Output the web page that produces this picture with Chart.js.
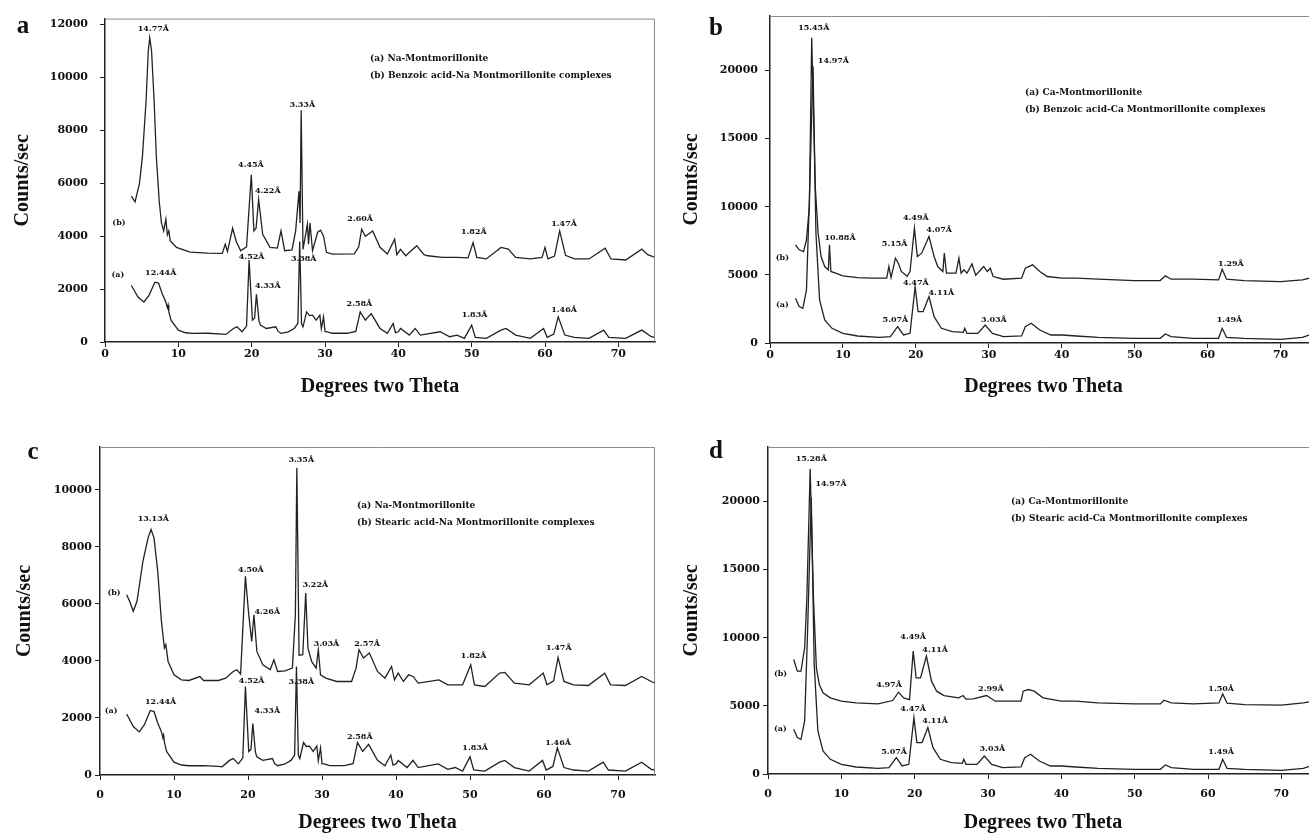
<!DOCTYPE html>
<html>
<head>
<meta charset="utf-8">
<script src="https://cdn.jsdelivr.net/npm/chart.js@4.4.2/dist/chart.umd.min.js"></script>
<style>
html, body { margin: 0; padding: 0; background: #fff; overflow: hidden; width: 1309px; height: 835px; }
.panel { position: absolute; }
</style>
</head>
<body>
<div class="panel" style="left:0;top:0"><canvas id="chart-a" width="660" height="410"></canvas></div>
<div class="panel" style="left:655px;top:0"><canvas id="chart-b" width="675" height="410"></canvas></div>
<div class="panel" style="left:0;top:410px"><canvas id="chart-c" width="660" height="425"></canvas></div>
<div class="panel" style="left:655px;top:410px"><canvas id="chart-d" width="675" height="425"></canvas></div>
<script>
// --- tick values ---
const thetaTicks = [0, 10, 20, 30, 40, 50, 60, 70];
const naTicks = [0, 2000, 4000, 6000, 8000, 10000, 12000];
const caTicks = [0, 5000, 10000, 15000, 20000];

// --- series: degrees two theta / counts per sec ---
const naMontX = [3.6, 4.5, 5.3, 6.0, 6.8, 7.3, 7.8, 8.3, 8.5, 8.6, 8.7, 9.0, 10, 11, 12, 14, 16, 16.5, 17.5, 18, 18.7, 19.3, 19.65, 20.1, 20.4, 20.65, 21.0, 21.2, 22, 23.3, 23.6, 24, 25, 25.8, 26.3, 26.55, 26.8, 27.0, 27.5, 27.9, 28.3, 28.8, 29.3, 29.5, 29.8, 30.0, 30.3, 31, 33, 34.2, 34.8, 35.5, 36.3, 37.5, 38.5, 39.3, 39.6, 40.0, 40.3, 41.5, 42.3, 43, 45.7, 47, 48, 49, 50.0, 50.5, 52, 54, 54.7, 56, 58, 59.8, 60.3, 61.2, 61.8, 62.7, 64, 66, 68, 68.7, 71, 73.2, 74.5, 75];
const naMontY = [2137, 1700, 1512, 1762, 2262, 2225, 1825, 1512, 1300, 1400, 1150, 825, 450, 350, 325, 330, 300, 287, 512, 575, 390, 600, 3100, 825, 900, 1800, 800, 637, 512, 575, 400, 325, 387, 512, 700, 3800, 700, 575, 1137, 1000, 1012, 825, 1012, 500, 950, 400, 387, 330, 330, 400, 1137, 825, 1075, 512, 325, 700, 350, 387, 512, 262, 512, 262, 387, 200, 262, 137, 637, 175, 137, 450, 512, 262, 137, 512, 175, 300, 950, 262, 175, 137, 450, 175, 137, 450, 200, 175];

const benzoicNaX = [3.6, 4.1, 4.7, 5.1, 5.6, 5.9, 6.1, 6.35, 6.7, 7.0, 7.4, 7.7, 8.0, 8.3, 8.5, 8.7, 8.9, 9.75, 11.6, 14, 16, 16.4, 16.7, 17.4, 17.9, 18.5, 19.3, 19.95, 20.3, 20.6, 20.95, 21.5, 22.5, 23.5, 24.0, 24.5, 25.5, 26.0, 26.45, 26.6, 26.75, 27.0, 27.6, 27.75, 27.95, 28.3, 29.0, 29.4, 29.8, 30.2, 31, 34, 34.6, 35.0, 35.5, 36.5, 37.5, 38.5, 39.5, 39.8, 40.3, 41, 42.5, 43.5, 44, 46, 48, 49.5, 50.2, 50.7, 52, 54, 55, 56, 58, 59.6, 60.0, 60.4, 61.3, 62.0, 62.8, 64, 66, 68.2, 69, 71, 73.2, 74, 75];
const benzoicNaY = [5512, 5300, 6000, 7000, 9100, 11000, 11500, 11000, 9100, 7000, 5300, 4500, 4200, 4640, 4050, 4200, 3825, 3575, 3400, 3360, 3350, 3700, 3420, 4300, 3800, 3450, 3600, 6325, 4200, 4300, 5390, 4075, 3575, 3550, 4200, 3450, 3480, 4200, 5700, 4500, 8762, 3500, 4450, 3700, 4500, 3450, 4150, 4225, 4000, 3390, 3320, 3330, 3600, 4262, 4000, 4200, 3580, 3325, 3890, 3300, 3500, 3260, 3640, 3300, 3260, 3200, 3200, 3180, 3762, 3200, 3140, 3575, 3512, 3200, 3140, 3200, 3575, 3140, 3250, 4200, 3275, 3140, 3140, 3550, 3140, 3100, 3512, 3300, 3200];

const stearicNaX = [3.6, 4.0, 4.5, 5.0, 5.8, 6.5, 6.9, 7.3, 7.8, 8.3, 8.7, 8.9, 9.2, 10, 11, 12, 13.5, 14, 16, 17, 18, 18.5, 19.0, 19.65, 20.1, 20.5, 20.8, 21.2, 22, 23, 23.5, 24, 25, 26, 26.4, 26.6, 26.9, 27.4, 27.8, 28.1, 28.6, 29.2, 29.5, 29.8, 30.5, 32, 34, 34.6, 35.0, 35.6, 36.4, 37.5, 38.5, 39.4, 39.8, 40.3, 41, 41.7, 42.3, 43, 45.8, 47, 49, 50.1, 50.6, 52, 54, 54.7, 56, 58, 59.9, 60.4, 61.3, 61.9, 62.7, 64, 66, 68.2, 69, 71, 73.2, 74.5, 75];
const stearicNaY = [6323, 6089, 5738, 6089, 7494, 8314, 8607, 8314, 7143, 5387, 4450, 4567, 3981, 3513, 3337, 3314, 3450, 3314, 3314, 3396, 3630, 3689, 3537, 6967, 5621, 4684, 5621, 4333, 3864, 3689, 4040, 3630, 3654, 3747, 5621, 10773, 4200, 4216, 6382, 4450, 3981, 3747, 4391, 3513, 3396, 3279, 3279, 3747, 4391, 4099, 4274, 3630, 3396, 3806, 3337, 3572, 3279, 3513, 3455, 3220, 3337, 3162, 3162, 3864, 3162, 3103, 3572, 3596, 3220, 3162, 3572, 3162, 3300, 4122, 3279, 3162, 3138, 3572, 3162, 3138, 3455, 3279, 3220];

const caMontX = [3.5, 4.0, 4.5, 5.0, 5.4, 5.9, 6.3, 6.8, 7.5, 8.5, 10, 12, 15, 16.5, 17.5, 18.3, 19.2, 19.9, 20.3, 21.0, 21.8, 22.5, 23.5, 25, 26.5, 26.7, 27, 28.5, 29.5, 30.5, 32, 34.5, 35.0, 35.8, 37, 38.5, 40, 42, 45, 50, 53.5, 54.2, 55, 58, 61.5, 62.0, 62.6, 65, 70, 73, 74, 75];
const caMontY = [3284, 2672, 2550, 3897, 10515, 20318, 8064, 3162, 1691, 1078, 710, 515, 417, 466, 1201, 588, 710, 4142, 2304, 2304, 3407, 1936, 1078, 833, 784, 1078, 710, 710, 1324, 710, 466, 515, 1200, 1446, 956, 588, 588, 515, 417, 343, 343, 662, 466, 343, 343, 1078, 417, 343, 270, 417, 588, 600];

const benzoicCaX = [3.5, 4.0, 4.6, 5.0, 5.4, 5.72, 6.2, 6.6, 7.0, 7.5, 8.0, 8.15, 8.35, 9, 10, 12, 14, 16, 16.3, 16.6, 17.2, 17.6, 18, 18.8, 19.2, 19.8, 20.2, 20.8, 21.8, 22.5, 23.0, 23.7, 23.9, 24.2, 25.5, 25.9, 26.2, 26.6, 27.0, 27.7, 28.2, 29.3, 29.8, 30.2, 30.6, 32, 34.5, 35.0, 36.0, 37, 38, 40, 42, 45, 50, 53.5, 54.2, 55, 58, 61.5, 62.0, 62.6, 65, 70, 73, 75];
const benzoicCaY = [7206, 6838, 6700, 7574, 10025, 22400, 11500, 8064, 6348, 5612, 5368, 7206, 5250, 5122, 4927, 4800, 4755, 4755, 5612, 4800, 6225, 5850, 5250, 4900, 5250, 8431, 6348, 6593, 7818, 6348, 5612, 5245, 6593, 5122, 5122, 6225, 5122, 5368, 5122, 5800, 4980, 5612, 5245, 5490, 4880, 4680, 4755, 5490, 5735, 5245, 4880, 4755, 4755, 4681, 4583, 4583, 4927, 4681, 4681, 4633, 5417, 4681, 4583, 4510, 4633, 4900];

const stearicCaX = [3.5, 4.0, 4.5, 5.0, 5.3, 5.75, 6.2, 6.6, 7.0, 7.5, 8.5, 10, 12, 15, 17, 17.8, 18.5, 19.3, 19.8, 20.2, 20.8, 21.6, 22.3, 23, 24, 26, 26.6, 27, 28, 29.8, 31, 34.5, 34.8, 35.5, 36.3, 37.5, 40, 42, 45, 50, 53.5, 54, 55, 58, 61.5, 62.0, 62.6, 65, 70, 73, 75];
const stearicCaY = [8407, 7549, 7549, 9265, 12941, 22378, 12941, 7794, 6569, 5956, 5588, 5343, 5220, 5147, 5392, 6005, 5588, 5465, 9020, 7059, 7059, 8652, 6814, 6079, 5760, 5588, 5760, 5500, 5515, 5760, 5343, 5343, 6079, 6201, 6079, 5588, 5343, 5343, 5220, 5147, 5147, 5417, 5220, 5147, 5220, 5882, 5196, 5098, 5049, 5220, 5400];

// --- peak labels (text, 2theta, counts) ---
const aLabels = ['14.77Å', '4.45Å', '4.22Å', '3.33Å', '2.60Å', '1.82Å', '1.47Å', '12.44Å', '4.52Å', '3.38Å', '4.33Å', '2.58Å', '1.83Å', '1.46Å', '(b)', '(a)'];
const aLabelX = [6.6, 19.9, 22.2, 26.9, 34.8, 50.3, 62.6, 7.6, 20.0, 27.1, 22.2, 34.7, 50.4, 62.6, 1.9, 1.75];
const aLabelY = [11850, 6700, 5725, 8950, 4650, 4150, 4475, 2600, 3225, 3137, 2125, 1450, 1037, 1200, 4487, 2537];

const bLabels = ['15.45Å', '14.97Å', '10.88Å', '4.49Å', '4.07Å', '5.15Å', '1.29Å', '4.47Å', '4.11Å', '5.07Å', '3.03Å', '1.49Å', '(b)', '(a)'];
const bLabelX = [6.0, 8.7, 9.6, 20.0, 23.2, 17.1, 63.2, 20.0, 23.5, 17.2, 30.7, 63.0, 1.7, 1.7];
const bLabelY = [23140, 20686, 7696, 9167, 8309, 7280, 5784, 4387, 3652, 1691, 1691, 1691, 6275, 2794];

const cLabels = ['13.13Å', '3.35Å', '4.50Å', '3.22Å', '4.26Å', '3.03Å', '2.57Å', '1.82Å', '1.47Å', '12.44Å', '4.52Å', '3.38Å', '4.33Å', '2.58Å', '1.83Å', '1.46Å', '(b)', '(a)'];
const cLabelX = [7.2, 27.2, 20.4, 29.1, 22.6, 30.6, 36.1, 50.5, 62.0, 8.2, 20.5, 27.2, 22.6, 35.1, 50.7, 61.9, 1.9, 1.5];
const cLabelY = [8993, 11031, 7202, 6675, 5703, 4602, 4602, 4192, 4450, 2576, 3314, 3279, 2260, 1347, 937, 1136, 6382, 2248];

const dLabels = ['15.28Å', '14.97Å', '4.49Å', '4.11Å', '4.97Å', '2.99Å', '1.50Å', '4.47Å', '4.11Å', '5.07Å', '3.03Å', '1.49Å', '(b)', '(a)'];
const dLabelX = [5.9, 8.6, 19.8, 22.8, 16.5, 30.4, 61.8, 19.8, 22.8, 17.2, 30.6, 61.8, 1.7, 1.7];
const dLabelY = [23113, 21275, 10049, 9142, 6569, 6275, 6275, 4804, 3922, 1618, 1863, 1593, 7353, 3309];

const naName = '(a) Na-Montmorillonite';
const caName = '(a) Ca-Montmorillonite';

XRD();
function XRD() {

    const tickFont = { family: "'DejaVu Serif', serif", size: 11, weight: 'bold' };
    const titleFont = { family: "'Liberation Serif', 'Times New Roman', serif", size: 20, weight: 'bold' };
    const ink = '#111';

    function pts(xs, ys) {
        return xs.map((x, i) => ({ x, y: ys[i] }));
    }

    // frame, peak labels, legend text and panel letter
    const xrdText = {
        id: 'xrdText',
        afterDraw(chart, args, o) {
            const { ctx, chartArea: ca, scales: { x, y } } = chart;
            ctx.save();
            ctx.strokeStyle = '#8c8c8c';
            ctx.lineWidth = 1;
            ctx.beginPath();
            ctx.moveTo(ca.left, ca.top + 0.5);
            ctx.lineTo(ca.right - 0.5, ca.top + 0.5);
            ctx.lineTo(ca.right - 0.5, ca.bottom);
            ctx.stroke();

            ctx.fillStyle = ink;
            ctx.textAlign = 'center';
            ctx.textBaseline = 'middle';
            ctx.font = "bold 8px 'DejaVu Serif', serif";
            o.text.forEach((t, i) => {
                ctx.fillText(t, x.getPixelForValue(o.tx[i]), y.getPixelForValue(o.ty[i]));
            });

            ctx.textAlign = 'left';
            ctx.font = "bold 9px 'DejaVu Serif', serif";
            o.legend.forEach((t, i) => ctx.fillText(t, o.legendAt[0], o.legendAt[1] + i * 17));

            ctx.textAlign = 'center';
            ctx.font = "bold 25px 'Liberation Serif', serif";
            ctx.fillText(o.letter, o.letterAt[0], o.letterAt[1]);
            ctx.restore();
        }
    };

    function render_chart(id, g) {
        const ctx = document.getElementById(`chart-${id}`);
        const line = { borderColor: '#222', borderWidth: 1.3, pointRadius: 0, fill: false, tension: 0 };
        new Chart(ctx, {
            type: 'line',
            data: {
                datasets: [
                    { ...line, data: pts(g.ax, g.ay) },
                    { ...line, data: pts(g.bx, g.by) }
                ]
            },
            options: {
                responsive: false,
                animation: false,
                devicePixelRatio: 1,
                layout: { padding: { top: g.top, right: g.right, left: 0, bottom: 0 } },
                plugins: {
                    legend: { display: false },
                    tooltip: { enabled: false },
                    xrdText: {
                        text: g.labels, tx: g.lx, ty: g.ly,
                        legend: g.legend, legendAt: g.legendAt,
                        letter: id, letterAt: g.letterAt
                    }
                },
                scales: {
                    x: {
                        type: 'linear', min: 0, max: 75,
                        afterBuildTicks: s => { s.ticks = thetaTicks.map(v => ({ value: v })); },
                        afterFit: s => { s.height = g.xh; },
                        ticks: { padding: g.xpad, font: tickFont, color: ink, maxRotation: 0, autoSkip: false },
                        grid: { drawOnChartArea: false, tickLength: 5, color: '#222' },
                        border: { color: '#222', width: 1.5 },
                        title: { display: true, text: 'Degrees two Theta', font: titleFont, color: ink, padding: { top: 0, bottom: g.xtp } }
                    },
                    y: {
                        type: 'linear', min: 0, max: g.ymax,
                        afterBuildTicks: s => { s.ticks = g.yticks.map(v => ({ value: v })); },
                        afterFit: s => { s.width = g.yw; },
                        ticks: { padding: g.ypad, font: tickFont, color: ink, autoSkip: false, callback: v => String(v) },
                        grid: { drawOnChartArea: false, tickLength: 5, color: '#222' },
                        border: { color: '#222', width: 1.5 },
                        title: { display: true, text: 'Counts/sec', font: titleFont, color: ink, padding: { top: g.ytp, bottom: 0 } }
                    }
                }
            },
            plugins: [xrdText]
        });
    }

    render_chart('a', {
        ax: naMontX, ay: naMontY, bx: benzoicNaX, by: benzoicNaY,
        labels: aLabels, lx: aLabelX, ly: aLabelY,
        legend: [naName, '(b) Benzoic acid-Na Montmorillonite complexes'],
        legendAt: [370, 59], letterAt: [23, 27],
        top: 17, right: 5, xh: 68, yw: 105, ymax: 12225, yticks: naTicks,
        xpad: 1, ypad: 12, xtp: 11, ytp: 11
    });
    render_chart('b', {
        ax: caMontX, ay: caMontY, bx: benzoicCaX, by: benzoicCaY,
        labels: bLabels, lx: bLabelX, ly: bLabelY,
        legend: [caName, '(b) Benzoic acid-Ca Montmorillonite complexes'],
        legendAt: [370, 93], letterAt: [61, 29],
        top: 16, right: 13, xh: 67, yw: 115, ymax: 24000, yticks: caTicks,
        xpad: 1, ypad: 7, xtp: 11, ytp: 25
    });
    render_chart('c', {
        ax: naMontX, ay: naMontY, bx: stearicNaX, by: stearicNaY,
        labels: cLabels, lx: cLabelX, ly: cLabelY,
        legend: [naName, '(b) Stearic acid-Na Montmorillonite complexes'],
        legendAt: [357, 96], letterAt: [33, 43],
        top: 37, right: 5, xh: 60, yw: 100, ymax: 11500, yticks: naTicks.slice(0, 6),
        xpad: 9, ypad: 3, xtp: 0, ytp: 13
    });
    render_chart('d', {
        ax: caMontX, ay: caMontY, bx: stearicCaX, by: stearicCaY,
        labels: dLabels, lx: dLabelX, ly: dLabelY,
        legend: [caName, '(b) Stearic acid-Ca Montmorillonite complexes'],
        legendAt: [356, 92], letterAt: [61, 42],
        top: 37, right: 12, xh: 61, yw: 113, ymax: 24000, yticks: caTicks,
        xpad: 9, ypad: 3, xtp: 0, ytp: 25
    });
}
</script>
</body>
</html>
